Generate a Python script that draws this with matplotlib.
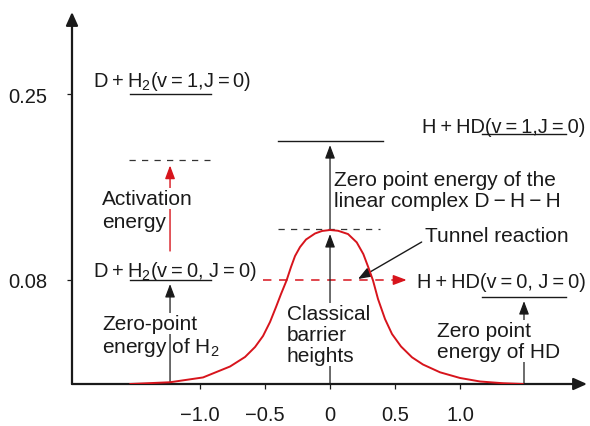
import matplotlib
matplotlib.use("Agg")
import matplotlib.pyplot as plt

plt.rcParams['font.family'] = ['Liberation Sans', 'DejaVu Sans']
plt.rcParams['mathtext.fontset'] = 'custom'
plt.rcParams['mathtext.rm'] = 'Liberation Sans'
plt.rcParams['mathtext.it'] = 'Liberation Sans:italic'
plt.rcParams['mathtext.bf'] = 'Liberation Sans:bold'

# ---------------- data ----------------
barrier_x = [-1.5385, -1.2308, -0.9769, -0.7692, -0.6538, -0.5769, -0.5154, -0.4615,
             -0.4154, -0.3769, -0.3346, -0.3000, -0.2692, -0.2308, -0.1846, -0.1154,
             -0.0615, 0.0, 0.0615, 0.1385, 0.2054, 0.2562, 0.2946, 0.3308, 0.3692,
             0.4231, 0.4769, 0.5462, 0.6308, 0.7154, 0.8462, 1.0, 1.1538, 1.3308, 1.4846]
barrier_y = [-0.0151, -0.0135, -0.0091, 0.0009, 0.0096, 0.0187, 0.0288, 0.0416,
             0.0553, 0.0672, 0.0795, 0.0919, 0.1019, 0.1101, 0.1170, 0.1225,
             0.1248, 0.1257, 0.1250, 0.1220, 0.1144, 0.1037, 0.0916, 0.0795, 0.0626,
             0.0443, 0.0306, 0.0192, 0.0093, 0.0027, -0.0044, -0.0096, -0.0128, -0.0144, -0.0151]

reactant_x = [-1.538, -0.915]
reactant_level_y = [0.08, 0.25]          # v=0, v=1
activation_x = [-1.546, -0.923]
activation_y = 0.1897
complex_x = [-0.40, 0.408]
barrier_top_x = [-0.40, 0.385]
barrier_top_y = 0.1266
complex_zpe_y = 0.207
product_x = [1.169, 1.815]
product_level_y = [0.0644, 0.2134]       # v=0, v=1
tunnel_x = [-0.515, 0.50]
tunnel_y = 0.08

reactant_arrow_x = -1.2308
product_arrow_x = 1.4923
baseline_y = -0.0151
activation_start_y = 0.1065

xticks = [-1.0, -0.5, 0.0, 0.5, 1.0]
xtick_labels = ["\u22121.0", "\u22120.5", "0", "0.5", "1.0"]
yticks = [0.08, 0.25]
ytick_labels = ["0.08", "0.25"]

# ---------------- figure ----------------
INK = '#1a1a1a'
RED = '#d7141c'
FS = 15
FSF = 14.4   # formulas

fig = plt.figure(figsize=(5.9, 4.27), dpi=100)
ax = fig.add_axes([72/590, 42/427, 515/590, 372/427])
ax.set_xlim(-1.985, 1.977)
ax.set_ylim(-0.0151, 0.325)
for s in ax.spines.values():
    s.set_visible(False)

ax.set_xticks(xticks, labels=xtick_labels)
ax.set_yticks(yticks, labels=ytick_labels)
ax.tick_params(axis='x', direction='out', length=3.6, width=0.9, pad=11.5,
               labelsize=14.5, colors=INK)
ax.tick_params(axis='y', direction='out', length=3.6, width=0.9, pad=14,
               labelsize=14.5, colors=INK)

# axes with arrow heads
axis_style = '-|>,head_length=0.8,head_width=0.36'
ax.annotate('', xy=(0, 1), xytext=(0, 0), xycoords='axes fraction',
            arrowprops=dict(arrowstyle=axis_style, mutation_scale=10, lw=1.6,
                            color=INK, shrinkA=0, shrinkB=0), annotation_clip=False)
ax.annotate('', xy=(1, 0), xytext=(0, 0), xycoords='axes fraction',
            arrowprops=dict(arrowstyle=axis_style, mutation_scale=10, lw=1.6,
                            color=INK, shrinkA=0, shrinkB=0), annotation_clip=False)

# barrier curve
ax.plot(barrier_x, barrier_y, color=RED, lw=1.4, zorder=5, solid_capstyle='round',
        solid_joinstyle='round')

# energy levels
lvl = dict(color=INK, lw=1.0, zorder=2)
for y in reactant_level_y:
    ax.plot(reactant_x, [y, y], **lvl)
for y in product_level_y:
    ax.plot(product_x, [y, y], **lvl)
ax.plot(complex_x, [complex_zpe_y, complex_zpe_y], **lvl)
ax.plot(activation_x, [activation_y, activation_y], color='#333333', lw=0.9,
        dashes=(5, 5), zorder=2)
ax.plot(barrier_top_x, [barrier_top_y, barrier_top_y], color='#333333', lw=0.9,
        dashes=(5, 5), zorder=2)
ax.plot(tunnel_x, [tunnel_y, tunnel_y], color=RED, lw=1.1, dashes=(5.5, 5), zorder=2)

gap = 0.0037
head = '-|>,head_length=0.8,head_width=0.3'


def arrow(x0, y0, x1, y1, color=INK, lw=0.9):
    ax.annotate('', xy=(x1, y1), xytext=(x0, y0),
                arrowprops=dict(arrowstyle=head, mutation_scale=10, lw=lw,
                                color=color, shrinkA=0, shrinkB=0), zorder=2)


arrow(reactant_arrow_x, baseline_y, reactant_arrow_x, reactant_level_y[0] - gap)
arrow(reactant_arrow_x, activation_start_y, reactant_arrow_x, activation_y - 0.005,
      color=RED, lw=1.0)
arrow(0.0, baseline_y, 0.0, max(barrier_y) - gap)
arrow(0.0, barrier_top_y, 0.0, complex_zpe_y - gap)
arrow(product_arrow_x, baseline_y, product_arrow_x, product_level_y[0] - gap)
arrow(tunnel_x[1] - 0.01, tunnel_y, 0.59, tunnel_y, color=RED, lw=1.1)
arrow(0.705, 0.1147, 0.215, 0.0809, lw=1.0)

# ---------------- texts ----------------
wbox = dict(facecolor='white', edgecolor='none', pad=1.0)
tk = dict(fontsize=FS, color=INK, ha='left', va='baseline', zorder=3)
fk = dict(fontsize=FSF, color=INK, ha='left', va='baseline', zorder=3)

ax.text(-1.823, 0.2573, 'D\u2009+\u2009H$_2$(v\u2009=\u20091,J\u2009=\u20090)', **fk)
ax.text(-1.823, 0.0836, 'D\u2009+\u2009H$_2$(v\u2009=\u20090, J\u2009=\u20090)', **fk)
ax.text(0.705, 0.2153, 'H\u2009+\u2009HD(v\u2009=\u20091,J\u2009=\u20090)', **fk)
ax.text(0.667, 0.0736, 'H\u2009+\u2009HD(v\u2009=\u20090, J\u2009=\u20090)', **fk)

ax.text(-1.754, 0.1495, 'Activation', bbox=wbox, **tk)
ax.text(-1.754, 0.1284, 'energy', **tk)
ax.text(-1.754, 0.0352, 'Zero-point', bbox=wbox, **tk)
ax.text(-1.754, 0.0142, 'energy of H$_2$', **tk)
# multi-line texts: baseline anchor refers to the last line
ax.text(-0.331, 0.0059, 'Classical\nbarrier\nheights', bbox=wbox, linespacing=1.12, **tk)
ax.text(0.031, 0.1476, 'Zero point energy of the\nlinear complex D\u2009\u2212\u2009H\u2009\u2212\u2009H',
        linespacing=1.12, **tk)
ax.text(0.731, 0.1156, 'Tunnel reaction', **tk)
ax.text(0.821, 0.0096, 'Zero point\nenergy of HD', bbox=wbox, linespacing=1.12, **tk)

fig.savefig('out.png', dpi=100)
